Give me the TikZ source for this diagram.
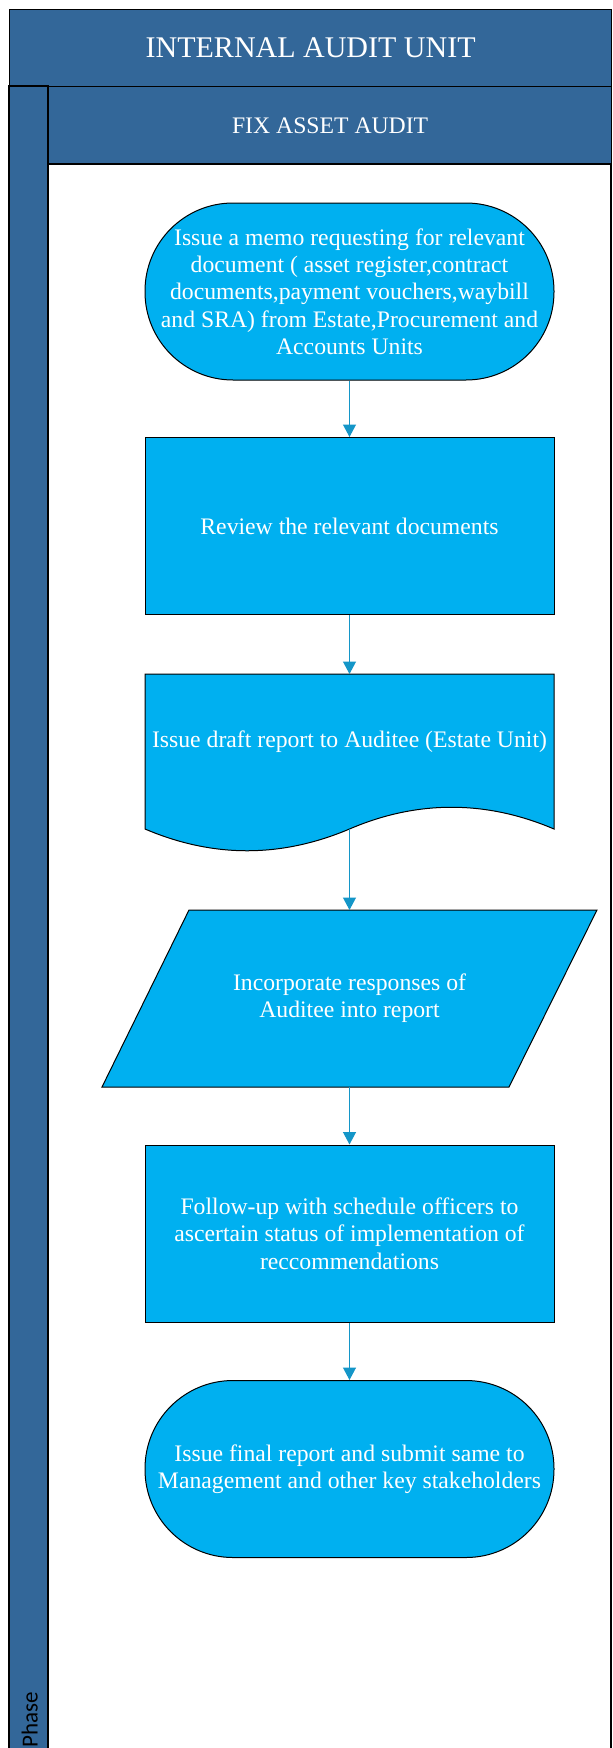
\documentclass[tikz,border=0pt]{standalone}
\usepackage{fontspec}
\setmainfont{Liberation Serif}
\newfontfamily\phasefont{Carlito}
\usetikzlibrary{arrows.meta}
\definecolor{hdr}{RGB}{51,103,153}
\definecolor{boxfill}{RGB}{0,176,240}
\definecolor{arr}{RGB}{20,150,200}
\begin{document}
\begin{tikzpicture}[x=1pt,y=-1pt,
  lane/.style={draw=black,line width=1.3pt},
  boxtext/.style={text=white,font=\fontsize{23.7}{27.3}\selectfont,align=center},
  shapeline/.style={draw=black,line width=1pt,fill=boxfill},
  procbox/.style={boxtext,shapeline,minimum width=409pt,minimum height=177pt,inner sep=0pt},
  termbox/.style={procbox,rounded corners=88pt},
  flow/.style={draw=arr,line width=1.2pt,-{Triangle[width=13pt,length=12.5pt]}}
]
\useasboundingbox (0,0) rectangle (613,1748);
\fill[white] (0,0) rectangle (613,1748);

% pool and lane
\node[lane,fill=hdr,minimum width=602pt,minimum height=77pt,inner sep=0pt,anchor=north west,
      text=white,font=\fontsize{30}{34}\selectfont] (title) at (9,9) {INTERNAL AUDIT UNIT};
\draw[lane,fill=hdr] (9,86) rectangle (48,1775);
\node[lane,fill=hdr,minimum width=563pt,minimum height=78pt,inner sep=0pt,anchor=north west,
      text=white,font=\fontsize{23.7}{27}\selectfont] (lanehead) at (48,86) {FIX ASSET AUDIT};
\draw[lane,fill=white] (48,164) rectangle (611,1775);
\node[rotate=90,anchor=base west,inner sep=0pt,font=\phasefont\fontsize{23}{27}\selectfont,text=black] (phase) at (37.5,1748) {Phase};

% shapes
\node[termbox] (s1) at (349.5,291.5) {Issue a memo requesting for relevant\\document ( asset register,contract\\documents,payment vouchers,waybill\\and SRA) from Estate,Procurement and\\Accounts Units};
\node[procbox] (s2) at (349.5,526) {Review the relevant documents};

\path[shapeline] (145,674) -- (145,829) .. controls (213,858) and (281,858) .. (349.5,829)
   .. controls (417,800) and (486,800) .. (554,829) -- (554,674) -- cycle;
\node[boxtext] (s3) at (349.5,742) {Issue draft report to Auditee (Estate Unit)};
\coordinate (s3t) at (349.5,674);
\coordinate (s3b) at (349.5,829);

\path[shapeline] (189,910) -- (597,910) -- (509,1087) -- (102,1087) -- cycle;
\node[boxtext] (s4) at (349.5,998.5) {Incorporate responses of\\Auditee into report};
\coordinate (s4t) at (349.5,910);
\coordinate (s4b) at (349.5,1087);

\node[procbox] (s5) at (349.5,1233.5) {Follow-up with schedule officers to\\ascertain status of implementation of\\reccommendations};
\node[termbox] (s6) at (349.5,1469) {Issue final report and submit same to\\Management and other key stakeholders};

% connectors
\draw[flow] (s1.south) -- (s2.north);
\draw[flow] (s2.south) -- (s3t);
\draw[flow] (s3b) -- (s4t);
\draw[flow] (s4b) -- (s5.north);
\draw[flow] (s5.south) -- (s6.north);
\end{tikzpicture}
\end{document}
